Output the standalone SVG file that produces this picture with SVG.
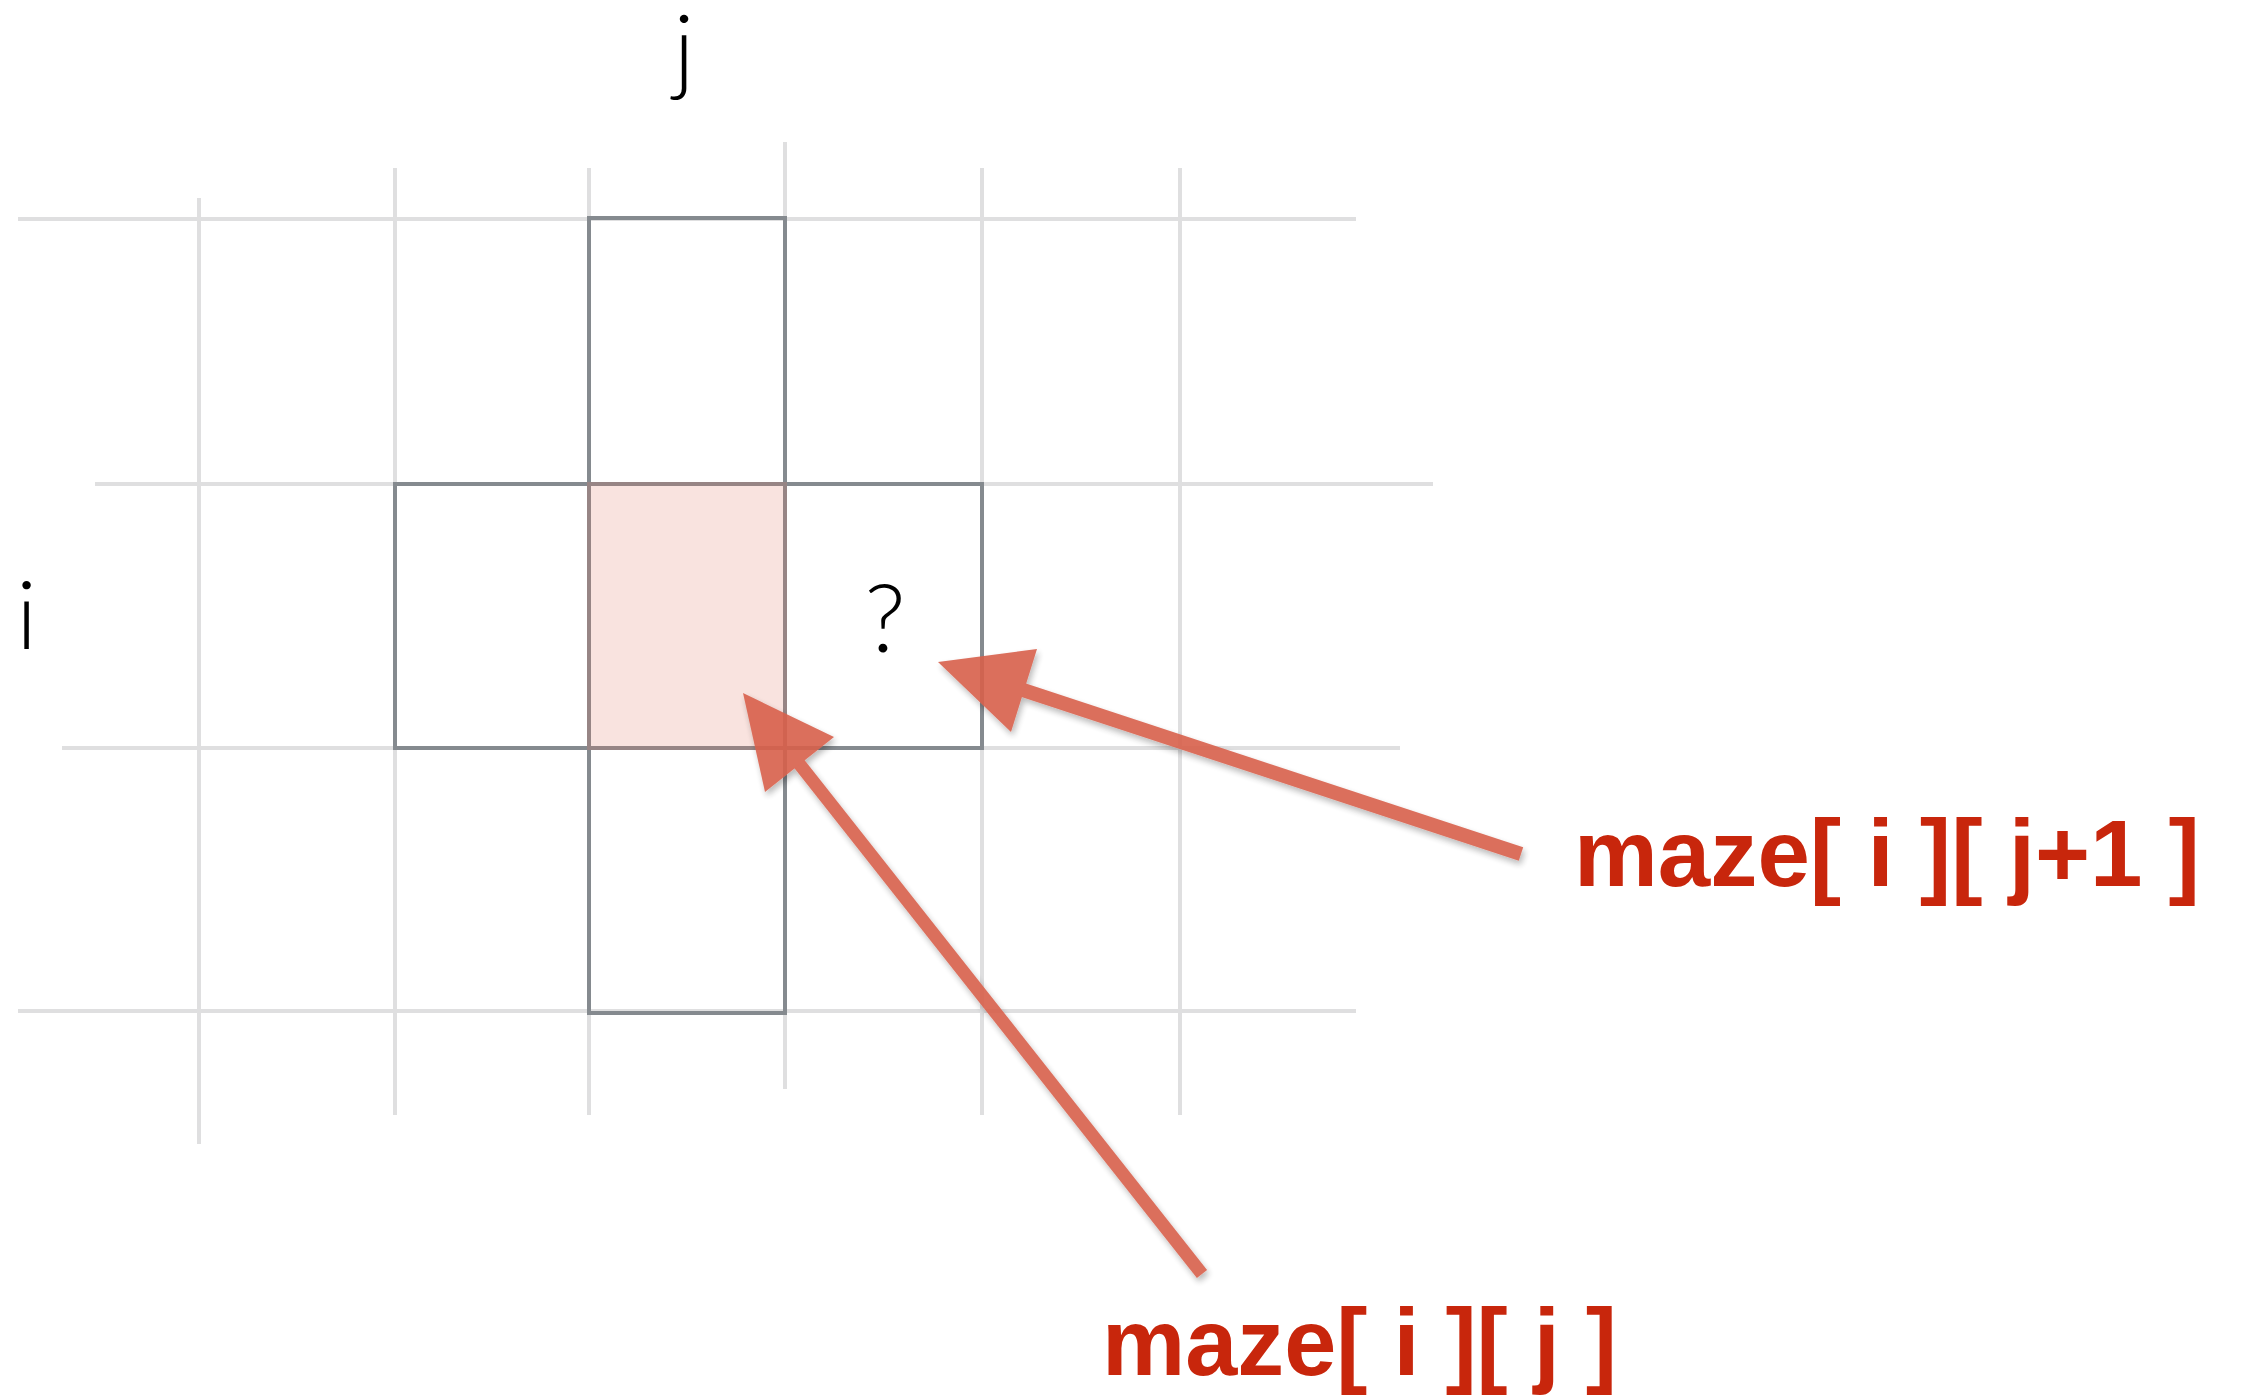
<svg xmlns="http://www.w3.org/2000/svg" width="2244" height="1399" viewBox="0 0 2244 1399">
<defs>
<style>
.grid{stroke:#dfdfe0;stroke-width:4;fill:none}
.cell{stroke:#858a8f;stroke-width:4;fill:none}
.lbl{font-family:Lato,"Liberation Sans",sans-serif;font-weight:300;font-size:95px;fill:#000}
.red{font-family:"Liberation Sans",Arial,sans-serif;font-weight:bold;font-size:95px;fill:#c8260c}
.arrow{fill:#d8604c;stroke:none}
.shaft{stroke:#d8604c;fill:none}
</style>
<filter id="sh" x="-20%" y="-20%" width="140%" height="140%">
<feDropShadow dx="2" dy="4" stdDeviation="3" flood-color="#000" flood-opacity="0.3"/>
</filter>
</defs>
<rect width="2244" height="1399" fill="#fff"/>
<g id="grid">
<line class="grid" x1="18" y1="219" x2="1356" y2="219"/>
<line class="grid" x1="95" y1="484" x2="1433" y2="484"/>
<line class="grid" x1="62" y1="748" x2="1400" y2="748"/>
<line class="grid" x1="18" y1="1011" x2="1356" y2="1011"/>
<line class="grid" x1="199" y1="198" x2="199" y2="1144"/>
<line class="grid" x1="395" y1="168" x2="395" y2="1115"/>
<line class="grid" x1="589" y1="168" x2="589" y2="1115"/>
<line class="grid" x1="785" y1="142" x2="785" y2="1089"/>
<line class="grid" x1="982" y1="168" x2="982" y2="1115"/>
<line class="grid" x1="1180" y1="168" x2="1180" y2="1115"/>
</g>
<g id="cell-top"><rect class="cell" x="589" y="218" width="196" height="266"/></g>
<g id="cell-left"><rect class="cell" x="395" y="484" width="194" height="264"/></g>
<g id="cell-right"><rect class="cell" x="785" y="484" width="197" height="264"/></g>
<g id="cell-bottom"><rect class="cell" x="589" y="748" width="196" height="265"/></g>
<g id="cell-current"><rect x="587" y="482" width="200" height="268" fill="#e2735e" opacity="0.2"/></g>
<g id="label-j"><text class="lbl" x="684" y="82" text-anchor="middle">j</text></g>
<g id="label-i"><text class="lbl" x="16" y="649">i</text></g>
<g id="label-q"><text class="lbl" x="885" y="652" text-anchor="middle">?</text></g>
<g id="label-next"><text class="red" x="1574" y="886" textLength="626" lengthAdjust="spacingAndGlyphs">maze[ i ][ j+1 ]</text></g>
<g id="label-cur"><text class="red" x="1102" y="1375" textLength="515" lengthAdjust="spacingAndGlyphs">maze[ i ][ j ]</text></g>
<g id="connectors">
<g opacity="0.9" filter="url(#sh)">
<line class="shaft" x1="1521" y1="854" x2="1020" y2="689" stroke-width="14"/>
<polygon class="arrow" points="938,662 1037,649 1011,732"/>
</g>
<g opacity="0.9" filter="url(#sh)">
<line class="shaft" x1="1202" y1="1274" x2="797" y2="761" stroke-width="13"/>
<polygon class="arrow" points="743,693 834,737 765,792"/>
</g>
</g>
</svg>
